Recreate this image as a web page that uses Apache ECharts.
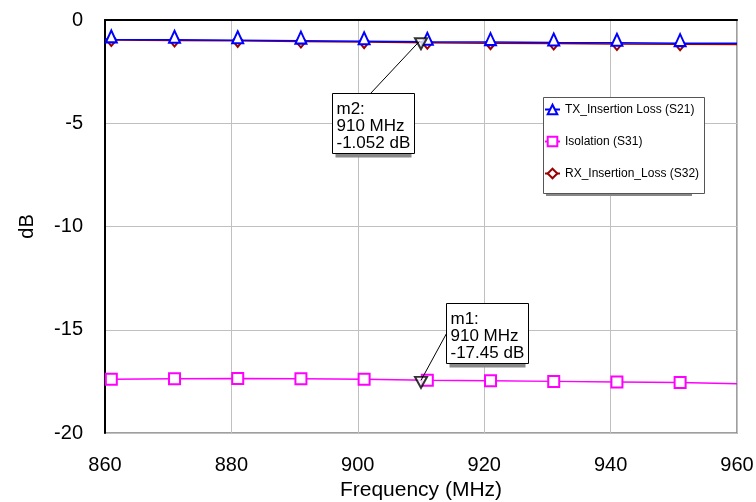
<!DOCTYPE html>
<html><head><meta charset="utf-8">
<script src="https://cdn.jsdelivr.net/npm/echarts@6/dist/echarts.min.js"></script>
<style>html,body{margin:0;padding:0;background:#fff}#c{width:756px;height:502px}</style>
</head><body><div id="c"></div>
<script>
const freq = [860, 861, 871, 881, 891, 901, 911, 921, 931, 941, 951, 960];
const txLoss = [-0.93, -0.94, -0.96, -0.98, -1.00, -1.03, -1.055, -1.07, -1.09, -1.10, -1.12, -1.13];
const isolation = [-17.40, -17.40, -17.37, -17.36, -17.37, -17.40, -17.45, -17.47, -17.50, -17.53, -17.56, -17.62];
const rxLoss = [-0.96, -0.97, -0.99, -1.01, -1.04, -1.07, -1.10, -1.12, -1.14, -1.16, -1.17, -1.19];
const seriesNames = ['TX_Insertion Loss (S21)', 'Isolation (S31)', 'RX_Insertion_Loss (S32)'];
const markerNames = ['m1', 'm2'];
const markerFreq = [910, 910];
const markerVal = [-17.45, -1.052];
const markerUnits = ['MHz', 'dB'];

const FONT = 'Liberation Sans, Arial, sans-serif';
function mk(vals) {
  return freq.map((f, i) => {
    const d = { value: [f, vals[i]] };
    if (i === 0 || i === freq.length - 1) d.symbol = 'none';
    return d;
  });
}
const chart = echarts.init(document.getElementById('c'));
chart.setOption({
  animation: false,
  backgroundColor: '#fff',
  grid: { left: 105, right: 19, top: 20, bottom: 69, outerBoundsMode: 'none', containLabel: false,
    show: true, borderColor: '#808080', borderWidth: 1.5 },
  xAxis: {
    type: 'value', min: 860, max: 960, interval: 20,
    name: 'Frequency (MHz)', nameLocation: 'middle', nameGap: 46,
    nameTextStyle: { fontFamily: FONT, fontSize: 21, color: '#000' },
    axisLine: { lineStyle: { color: '#000', width: 2 } },
    axisTick: { show: false },
    axisLabel: { fontFamily: FONT, fontSize: 20, color: '#000', margin: 22 },
    splitLine: { lineStyle: { color: '#c0c0c0', width: 1 } }
  },
  yAxis: {
    type: 'value', min: -20, max: 0, interval: 5,
    name: 'dB', nameLocation: 'middle', nameGap: 68,
    nameTextStyle: { fontFamily: FONT, fontSize: 20, color: '#000' },
    axisLine: { show: true, lineStyle: { color: '#000', width: 2 } },
    axisTick: { show: false },
    axisLabel: { fontFamily: FONT, fontSize: 20, color: '#000', margin: 22 },
    splitLine: { lineStyle: { color: '#c0c0c0', width: 1 } }
  },
  legend: {
    data: seriesNames, orient: 'vertical', left: 544, top: 103.5,
    itemWidth: 15, itemHeight: 12, itemGap: 20, padding: 0,
    textStyle: { fontFamily: FONT, fontSize: 12, color: '#000' }
  },
  series: [
    { name: seriesNames[1], type: 'line', data: mk(isolation), symbol: 'emptyRect', symbolSize: 11,
      color: '#ff00ff', lineStyle: { width: 1.5, color: '#ff00ff' }, itemStyle: { color: '#ff00ff', borderWidth: 1.5 }, z: 3 },
    { name: seriesNames[2], type: 'line', data: mk(rxLoss), symbol: 'emptyDiamond', symbolSize: [10, 12],
      color: '#990000', lineStyle: { width: 1.5, color: '#990000' }, itemStyle: { color: '#990000', borderWidth: 1.2 }, z: 3 },
    { name: seriesNames[0], type: 'line', data: mk(txLoss), symbol: 'emptyTriangle', symbolSize: [11, 12], symbolOffset: [0, -3],
      color: '#0000ff', lineStyle: { width: 1.5, color: '#0000ff' }, itemStyle: { color: '#0000ff', borderWidth: 1.5 }, z: 4 },
    { name: 'markers', type: 'scatter', data: markerFreq.map((f, i) => [f, markerVal[i]]),
      symbol: 'emptyTriangle', symbolRotate: 180, symbolSize: [12, 11], symbolOffset: [0, 2],
      itemStyle: { color: '#000', borderWidth: 1 }, z: 5, silent: true }
  ]
});

const g = [];
// legend frame
g.push({ type: 'rect', shape: { x: 546, y: 193, width: 146, height: 3 }, style: { fill: '#888' }, z: 1 });
g.push({ type: 'rect', shape: { x: 543.5, y: 97.5, width: 161, height: 96 }, style: { fill: '#fff', stroke: '#555', lineWidth: 1 }, z: 1 });
const boxOff = [[25, -77], [-89, 51]];
markerNames.forEach((n, i) => {
  const p = chart.convertToPixel({ gridIndex: 0 }, [markerFreq[i], markerVal[i]]);
  const bx = Math.round(p[0] + boxOff[i][0]) + 0.5, by = Math.round(p[1] + boxOff[i][1]) + 0.5;
  const w = 82, h = 60;
  if (i === 0) {
    g.push({ type: 'line', shape: { x1: p[0], y1: p[1], x2: bx, y2: by + 30 }, style: { stroke: '#000', lineWidth: 1 }, z: 10 });
  } else {
    g.push({ type: 'line', shape: { x1: p[0] - 2, y1: p[1], x2: bx + 38, y2: by }, style: { stroke: '#000', lineWidth: 1 }, z: 10 });
  }
  g.push({ type: 'rect', shape: { x: bx + 3, y: by + h, width: w - 6, height: 4 }, style: { fill: '#888' }, z: 10 });
  g.push({ type: 'rect', shape: { x: bx, y: by, width: w, height: h }, style: { fill: '#fff', stroke: '#000', lineWidth: 1 }, z: 11 });
  g.push({ type: 'text', x: bx + 4, y: by + 7, z: 12,
    style: { text: n + ':\n' + markerFreq[i] + ' ' + markerUnits[0] + '\n' + markerVal[i] + ' ' + markerUnits[1],
      font: '17px ' + FONT, fill: '#000', lineHeight: 17 } });
});
chart.setOption({ graphic: g });
</script></body></html>
